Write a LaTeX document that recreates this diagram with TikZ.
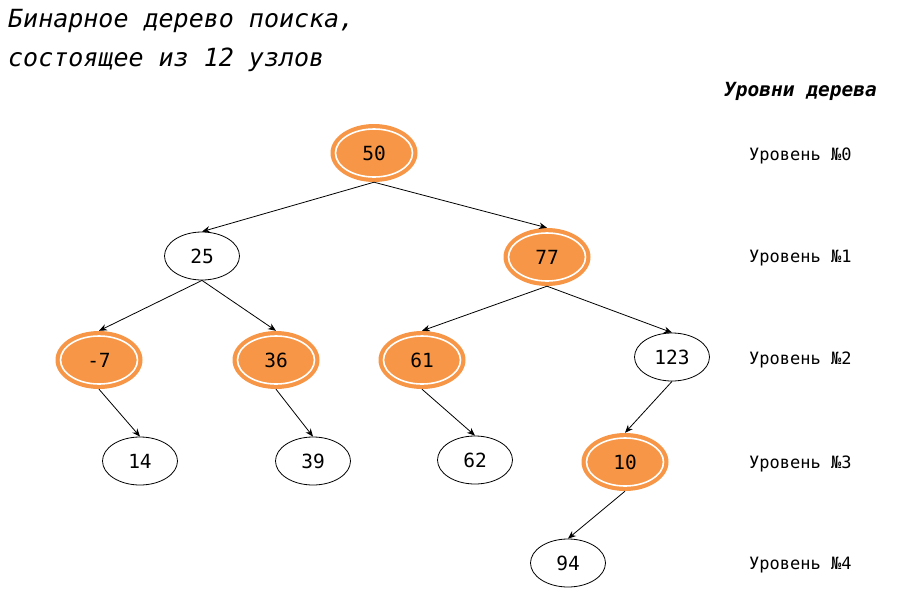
\documentclass[tikz,border=0pt]{standalone}
\usepackage{fontspec}
\setmainfont{DejaVu Sans Mono}
\usetikzlibrary{shapes.geometric,arrows.meta}
\definecolor{nodeorange}{HTML}{F79646}
\tikzset{
  plainnode/.style={ellipse, draw=black, line width=0.8pt, minimum width=75pt, minimum height=48pt, inner sep=0pt, font=\fontsize{19.5}{22}\selectfont},
  hinode/.style={ellipse, fill=nodeorange, draw=none, minimum width=87pt, minimum height=58pt, inner sep=0pt, font=\fontsize{19.5}{22}\selectfont},
  ring/.style={draw=white, line width=1.6pt},
  edge/.style={line width=0.8pt, -{Stealth[length=8pt,width=6.5pt]}},
  lvl/.style={anchor=base west, inner sep=0pt, font=\fontsize{17}{20}\selectfont},
  ttl/.style={anchor=base west, inner sep=0pt, font=\fontsize{25}{30}\selectfont\itshape}
}
\begin{document}
\begin{tikzpicture}[x=1pt,y=-1pt]
\useasboundingbox (0,0) rectangle (908,595);
\node[ttl] (t1) at (8,27) {Бинарное дерево поиска,};
\node[ttl] (t2) at (8,66) {состоящее из 12 узлов};
\node[anchor=base west, inner sep=0pt, font=\fontsize{19.5}{22}\selectfont\bfseries\itshape] (lt) at (724,96) {Уровни дерева};
\node[lvl] (l0) at (749,160) {Уровень №0};
\node[lvl] (l1) at (749,262) {Уровень №1};
\node[lvl] (l2) at (749,364) {Уровень №2};
\node[lvl] (l3) at (749,468) {Уровень №3};
\node[lvl] (l4) at (749,569) {Уровень №4};
% highlighted nodes
\node[hinode] (n50) at (374,153) {50};
\node[hinode] (n77) at (547,257) {77};
\node[hinode] (nm7) at (99,360) {-7};
\node[hinode] (n36) at (276,360) {36};
\node[hinode] (n61) at (422,360) {61};
\node[hinode] (n10) at (625,462) {10};
\foreach \n in {n50,n77,nm7,n36,n61,n10}{
  \draw[ring] (\n.center) ellipse (38.5 and 24);
}
% plain nodes
\node[plainnode] (n25) at (202,256) {25};
\node[plainnode] (n123) at (672,357) {123};
\node[plainnode] (n14) at (140,461) {14};
\node[plainnode] (n39) at (313,461) {39};
\node[plainnode] (n62) at (475,460) {62};
\node[plainnode] (n94) at (568,563) {94};
% edges
\draw[edge] (n50.south) -- (n25.north);
\draw[edge] (n50.south) -- (n77.north);
\draw[edge] (n25.south) -- (nm7.north);
\draw[edge] (n25.south) -- (n36.north);
\draw[edge] (n77.south) -- (n61.north);
\draw[edge] (n77.south) -- (n123.north);
\draw[edge] (nm7.south) -- (n14.north);
\draw[edge] (n36.south) -- (n39.north);
\draw[edge] (n61.south) -- (n62.north);
\draw[edge] (n123.south) -- (n10.north);
\draw[edge] (n10.south) -- (n94.north);
\end{tikzpicture}
\end{document}
